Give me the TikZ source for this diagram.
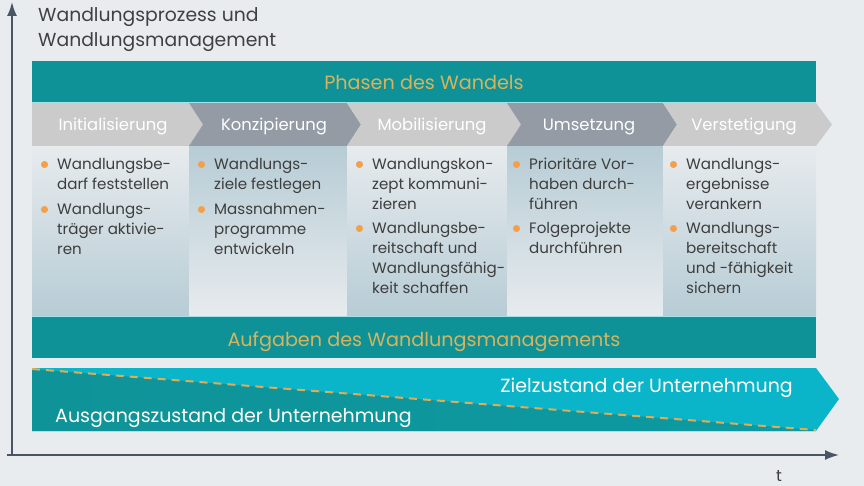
\documentclass[tikz,border=0pt]{standalone}
\usepackage{fontspec}
\setmainfont{Poppins}
\usetikzlibrary{arrows.meta}
\definecolor{bgGrey}{HTML}{E9ECEF}
\definecolor{barTeal}{HTML}{0E9297}
\definecolor{barGold}{HTML}{D6B45E}
\definecolor{edgeCyan}{HTML}{9FE4E8}
\definecolor{chevLight}{HTML}{CBCBCB}
\definecolor{chevDark}{HTML}{959BA5}
\definecolor{colBlue}{HTML}{B7CCD5}
\definecolor{colPale}{HTML}{E7EBEE}
\definecolor{axisSlate}{HTML}{4B5462}
\definecolor{titleGrey}{HTML}{404040}
\definecolor{bodyGrey}{HTML}{3E3E3E}
\definecolor{dotOrange}{HTML}{F4A04A}
\definecolor{stateCyan}{HTML}{0AB5C9}
\definecolor{stateTeal}{HTML}{0E9398}
\definecolor{dashGold}{HTML}{E2AC55}
\newcommand{\pkt}{\textcolor{dotOrange}{\scalebox{1.25}{$\bullet$}}}
\begin{document}
\begin{tikzpicture}[x=1pt,y=-1pt,
	bartext/.style={text=barGold, anchor=base, inner sep=0pt, font=\fontsize{19.2}{23}\selectfont},
	chevtext/.style={text=white, anchor=base, inner sep=0pt, font=\fontsize{16.4}{20}\selectfont},
	listtext/.style={anchor=north west, inner sep=0pt, text=bodyGrey, font=\fontsize{15.1}{20}\selectfont},
	statetext/.style={text=white, anchor=base, inner sep=0pt, font=\fontsize{19}{23}\selectfont},
	axis/.style={line width=1.8pt, draw=axisSlate, -{Latex[length=14pt,width=10pt]}}]
	\fill[bgGrey] (0,0) rectangle (864,486);
	
	% Achsen
	\coordinate (nullpkt) at (12,455);
	\coordinate (yspitze) at (12,2);
	\coordinate (xstart) at (7,455);
	\coordinate (xspitze) at (839,455);
	\draw[axis] (nullpkt) -- (yspitze);
	\draw[axis] (xstart) -- (xspitze);
	\node[anchor=base, inner sep=0pt, text=bodyGrey, font=\fontsize{16}{20}\selectfont] (zeit) at (779,481) {t};
	
	\node[anchor=north west, align=left, inner sep=0pt, text=titleGrey, font=\fontsize{18.8}{25}\selectfont] (titel) at (38,7.5) {Wandlungsprozess und\\Wandlungsmanagement};
	
	% Phasen
	\fill[barTeal] (32,61) rectangle (816,102);
	\node[bartext] (phasen) at (424,90) {Phasen des Wandels};
	
	\fill[colPale] (32,146) rectangle (816,316);
	\shade[top color=colPale, bottom color=colBlue] (32,146) rectangle (189,316);
	\shade[top color=colBlue, bottom color=colPale] (189,146) rectangle (347,316);
	\shade[top color=colPale, bottom color=colBlue] (347,146) rectangle (507,316);
	\shade[top color=colBlue, bottom color=colPale] (507,146) rectangle (663,316);
	\shade[top color=colPale, bottom color=colBlue] (663,146) rectangle (816,316);
	
	\fill[chevLight] (32,103) -- (189,103) -- (203,124.5) -- (189,146) -- (32,146) -- cycle;
	\fill[chevDark] (189,103) -- (347,103) -- (361,124.5) -- (347,146) -- (189,146) -- (203,124.5) -- cycle;
	\fill[chevLight] (347,103) -- (507,103) -- (521,124.5) -- (507,146) -- (347,146) -- (361,124.5) -- cycle;
	\fill[chevDark] (507,103) -- (663,103) -- (677,124.5) -- (663,146) -- (507,146) -- (521,124.5) -- cycle;
	\fill[chevLight] (663,103) -- (816,103) -- (832,124.5) -- (816,146) -- (663,146) -- (677,124.5) -- cycle;
	\draw[edgeCyan, line width=1pt] (32,102.5) -- (816,102.5);
	
	\node[chevtext] (initial) at (113,131) {Initialisierung};
	\node[chevtext] (konzept) at (274,131) {Konzipierung};
	\node[chevtext] (mobil) at (432,131) {Mobilisierung};
	\node[chevtext] (umsetz) at (589,131) {Umsetzung};
	\node[chevtext] (verstet) at (744,131) {Verstetigung};
	
	\node[listtext] (txtinit) at (40,155) {\begin{tabular}{@{}l@{\hspace{8pt}}l@{}}
		\pkt & Wandlungsbe-\\ & darf feststellen\\[5pt]
		\pkt & Wandlungs-\\ & träger aktivie-\\ & ren
	\end{tabular}};
	\node[listtext] (txtkonz) at (197,155) {\begin{tabular}{@{}l@{\hspace{8pt}}l@{}}
		\pkt & Wandlungs-\\ & ziele festlegen\\[5pt]
		\pkt & Massnahmen-\\ & programme\\ & entwickeln
	\end{tabular}};
	\node[listtext] (txtmobil) at (355,155) {\begin{tabular}{@{}l@{\hspace{8pt}}l@{}}
		\pkt & Wandlungskon-\\ & zept kommuni-\\ & zieren\\[4pt]
		\pkt & Wandlungsbe-\\ & reitschaft und\\ & Wandlungsfähig-\\ & keit schaffen
	\end{tabular}};
	\node[listtext] (txtumsetz) at (512,155) {\begin{tabular}{@{}l@{\hspace{8pt}}l@{}}
		\pkt & Prioritäre Vor-\\ & haben durch-\\ & führen\\[4pt]
		\pkt & Folgeprojekte\\ & durchführen
	\end{tabular}};
	\node[listtext] (txtverst) at (669,155) {\begin{tabular}{@{}l@{\hspace{8pt}}l@{}}
		\pkt & Wandlungs-\\ & ergebnisse\\ & verankern\\[4pt]
		\pkt & Wandlungs-\\ & bereitschaft\\ & und -fähigkeit\\ & sichern
	\end{tabular}};
	
	% Aufgaben
	\fill[barTeal] (32,317) rectangle (816,358);
	\draw[edgeCyan, line width=1pt] (32,316.5) -- (816,316.5);
	\node[bartext] (aufgaben) at (424,346) {Aufgaben des Wandlungsmanagements};
	
	% Zustand
	\fill[stateCyan] (32,368) -- (816,368) -- (839,399) -- (816,431) -- (32,431) -- cycle;
	\shade[left color=stateTeal, right color=stateTeal!80!stateCyan] (32,369) -- (816,430) -- (816,431) -- (32,431) -- cycle;
	\draw[dashGold, line width=2pt, dash pattern=on 8pt off 6pt] (32,369) -- (816,430);
	\node[statetext, anchor=base east] (ziel) at (793,392) {Zielzustand der Unternehmung};
	\node[statetext, anchor=base west] (ausgang) at (55,422) {Ausgangszustand der Unternehmung};
\end{tikzpicture}
\end{document}
